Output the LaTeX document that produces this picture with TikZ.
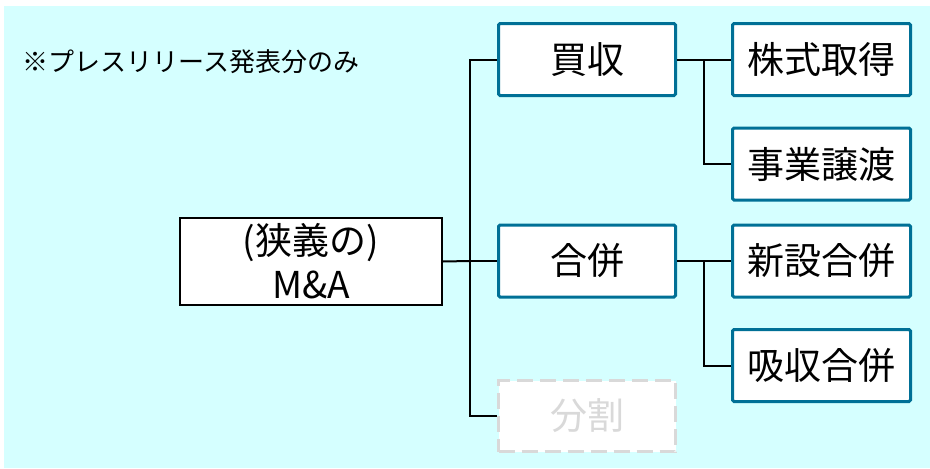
\documentclass[tikz,border=0pt]{standalone}
\usepackage{fontspec}
\setmainfont{Noto Sans CJK JP}
\definecolor{bgcyan}{RGB}{213,255,255}
\definecolor{teal1}{RGB}{0,112,150}
\definecolor{lgray}{RGB}{217,217,217}
\begin{document}
\begin{tikzpicture}[x=1pt,y=-1pt,
  tealbox/.style={draw=teal1,line width=3pt,fill=white,rounded corners=1.5pt,
    minimum width=177pt,minimum height=72pt,inner sep=0pt,font=\fontsize{37}{44}\selectfont},
  ghostbox/.style={draw=lgray,line width=3pt,fill=white,dash pattern=on 16pt off 7pt,
    minimum width=177pt,minimum height=71pt,inner sep=0pt,text=lgray,font=\fontsize{37}{44}\selectfont},
  rootbox/.style={draw=black,line width=2pt,fill=white,
    minimum width=262pt,minimum height=87pt,inner sep=0pt,align=center,font=\fontsize{37}{44}\selectfont},
  conn/.style={draw=black,line width=2pt}]
\useasboundingbox (0,0) rectangle (930,469);
\fill[white] (0,0) rectangle (930,469);
\fill[bgcyan] (4,6) rectangle (930,468);
\node[anchor=west,font=\fontsize{26}{30}\selectfont] (note) at (19,62) {※プレスリリース発表分のみ};
\node[rootbox] (ma) at (311,261.5) {(狭義の)\\M\&A};
\node[tealbox] (kai) at (587,59.5) {買収};
\node[tealbox] (gap) at (587,261) {合併};
\node[ghostbox] (bun) at (587,416) {分割};
\node[tealbox,minimum width=178pt] (kabu) at (821.5,59.5) {株式取得};
\node[tealbox,minimum width=178pt] (jig) at (821.5,164) {事業譲渡};
\node[tealbox,minimum width=178pt] (shin) at (821.5,261) {新設合併};
\node[tealbox,minimum width=178pt] (kyu) at (821.5,365.5) {吸収合併};
\coordinate (t) at (470,261);
\coordinate (u1) at (704,59.5);
\coordinate (u2) at (704,261);
\draw[conn] (ma.east) -- (t);
\draw[conn] (kai.west) -| (t) |- (bun.west);
\draw[conn] (t) -- (gap.west);
\draw[conn] (kai.east) -- (kabu.west);
\draw[conn] (u1) |- (jig.west);
\draw[conn] (gap.east) -- (shin.west);
\draw[conn] (u2) |- (kyu.west);
\end{tikzpicture}
\end{document}
